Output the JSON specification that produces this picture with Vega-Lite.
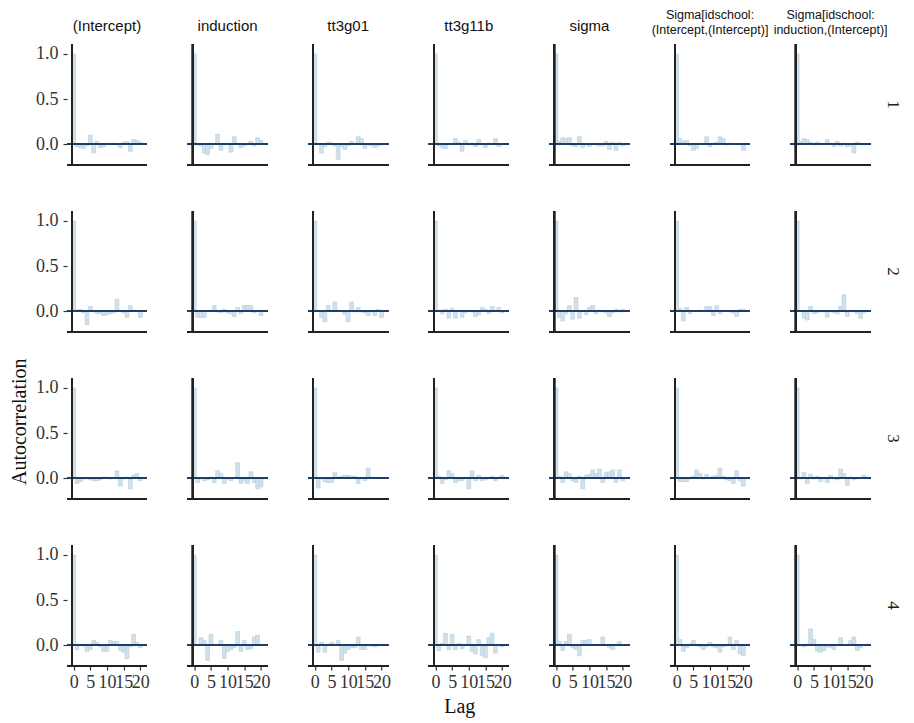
{
  "$schema": "https://vega.github.io/schema/vega-lite/v6.json",
  "background": "white",
  "padding": {"left": 9, "top": 8, "right": 5, "bottom": 3},
  "config": {
    "view": {"stroke": null},
    "axis": {"grid": false, "domain": false, "labelOverlap": false, "labelBound": false, "labelFlush": false, "labelFont": "Liberation Serif", "labelFontSize": 18, "labelColor": "#333", "tickColor": "#333", "tickWidth": 1.2, "tickSize": 4},
    "title": {"font": "Liberation Serif", "fontSize": 20, "fontWeight": "normal", "color": "#111"}
  },
  "title": {"text": "Lag", "orient": "bottom", "anchor": "middle", "offset": 6, "dx": 4},
  "vconcat": [
    {
      "title": {"text": "Autocorrelation", "orient": "left", "anchor": "middle", "offset": 6, "dx": -72},
      "data": {"values": [
{"c":1,"p":"(Intercept)","l":0,"a":1},{"c":1,"p":"(Intercept)","l":1,"a":-0.03},{"c":1,"p":"(Intercept)","l":2,"a":-0.04},{"c":1,"p":"(Intercept)","l":3,"a":-0.05},{"c":1,"p":"(Intercept)","l":4,"a":-0.02},{"c":1,"p":"(Intercept)","l":5,"a":0.1},{"c":1,"p":"(Intercept)","l":6,"a":-0.1},{"c":1,"p":"(Intercept)","l":7,"a":0.03},{"c":1,"p":"(Intercept)","l":8,"a":-0.04},{"c":1,"p":"(Intercept)","l":9,"a":-0.03},{"c":1,"p":"(Intercept)","l":10,"a":0.01},{"c":1,"p":"(Intercept)","l":11,"a":-0.01},{"c":1,"p":"(Intercept)","l":12,"a":0.01},{"c":1,"p":"(Intercept)","l":13,"a":-0.01},{"c":1,"p":"(Intercept)","l":14,"a":-0.04},{"c":1,"p":"(Intercept)","l":15,"a":0.02},{"c":1,"p":"(Intercept)","l":16,"a":0.03},{"c":1,"p":"(Intercept)","l":17,"a":-0.08},{"c":1,"p":"(Intercept)","l":18,"a":0.05},{"c":1,"p":"(Intercept)","l":19,"a":0.04},{"c":1,"p":"(Intercept)","l":20,"a":0.02},
{"c":1,"p":"induction","l":0,"a":1},{"c":1,"p":"induction","l":1,"a":0.0},{"c":1,"p":"induction","l":2,"a":-0.02},{"c":1,"p":"induction","l":3,"a":-0.1},{"c":1,"p":"induction","l":4,"a":-0.12},{"c":1,"p":"induction","l":5,"a":-0.05},{"c":1,"p":"induction","l":6,"a":0.0},{"c":1,"p":"induction","l":7,"a":0.11},{"c":1,"p":"induction","l":8,"a":-0.07},{"c":1,"p":"induction","l":9,"a":-0.01},{"c":1,"p":"induction","l":10,"a":0.01},{"c":1,"p":"induction","l":11,"a":-0.09},{"c":1,"p":"induction","l":12,"a":0.08},{"c":1,"p":"induction","l":13,"a":0.01},{"c":1,"p":"induction","l":14,"a":-0.04},{"c":1,"p":"induction","l":15,"a":-0.02},{"c":1,"p":"induction","l":16,"a":0.01},{"c":1,"p":"induction","l":17,"a":0.03},{"c":1,"p":"induction","l":18,"a":-0.02},{"c":1,"p":"induction","l":19,"a":0.07},{"c":1,"p":"induction","l":20,"a":0.04},
{"c":1,"p":"tt3g01","l":0,"a":1},{"c":1,"p":"tt3g01","l":1,"a":0.0},{"c":1,"p":"tt3g01","l":2,"a":-0.1},{"c":1,"p":"tt3g01","l":3,"a":-0.03},{"c":1,"p":"tt3g01","l":4,"a":0.02},{"c":1,"p":"tt3g01","l":5,"a":0.01},{"c":1,"p":"tt3g01","l":6,"a":-0.02},{"c":1,"p":"tt3g01","l":7,"a":-0.17},{"c":1,"p":"tt3g01","l":8,"a":-0.03},{"c":1,"p":"tt3g01","l":9,"a":-0.06},{"c":1,"p":"tt3g01","l":10,"a":-0.02},{"c":1,"p":"tt3g01","l":11,"a":0.03},{"c":1,"p":"tt3g01","l":12,"a":0.01},{"c":1,"p":"tt3g01","l":13,"a":0.08},{"c":1,"p":"tt3g01","l":14,"a":0.06},{"c":1,"p":"tt3g01","l":15,"a":-0.05},{"c":1,"p":"tt3g01","l":16,"a":-0.01},{"c":1,"p":"tt3g01","l":17,"a":-0.02},{"c":1,"p":"tt3g01","l":18,"a":-0.04},{"c":1,"p":"tt3g01","l":19,"a":-0.02},{"c":1,"p":"tt3g01","l":20,"a":-0.01},
{"c":1,"p":"tt3g11b","l":0,"a":1},{"c":1,"p":"tt3g11b","l":1,"a":-0.02},{"c":1,"p":"tt3g11b","l":2,"a":-0.04},{"c":1,"p":"tt3g11b","l":3,"a":-0.05},{"c":1,"p":"tt3g11b","l":4,"a":-0.01},{"c":1,"p":"tt3g11b","l":5,"a":0.0},{"c":1,"p":"tt3g11b","l":6,"a":0.06},{"c":1,"p":"tt3g11b","l":7,"a":0.02},{"c":1,"p":"tt3g11b","l":8,"a":-0.08},{"c":1,"p":"tt3g11b","l":9,"a":0.04},{"c":1,"p":"tt3g11b","l":10,"a":-0.01},{"c":1,"p":"tt3g11b","l":11,"a":0.01},{"c":1,"p":"tt3g11b","l":12,"a":-0.03},{"c":1,"p":"tt3g11b","l":13,"a":0.05},{"c":1,"p":"tt3g11b","l":14,"a":0.0},{"c":1,"p":"tt3g11b","l":15,"a":-0.04},{"c":1,"p":"tt3g11b","l":16,"a":0.01},{"c":1,"p":"tt3g11b","l":17,"a":0.0},{"c":1,"p":"tt3g11b","l":18,"a":0.06},{"c":1,"p":"tt3g11b","l":19,"a":-0.03},{"c":1,"p":"tt3g11b","l":20,"a":-0.01},
{"c":1,"p":"sigma","l":0,"a":1},{"c":1,"p":"sigma","l":1,"a":0.03},{"c":1,"p":"sigma","l":2,"a":0.07},{"c":1,"p":"sigma","l":3,"a":0.06},{"c":1,"p":"sigma","l":4,"a":0.07},{"c":1,"p":"sigma","l":5,"a":-0.02},{"c":1,"p":"sigma","l":6,"a":-0.03},{"c":1,"p":"sigma","l":7,"a":0.08},{"c":1,"p":"sigma","l":8,"a":-0.04},{"c":1,"p":"sigma","l":9,"a":-0.01},{"c":1,"p":"sigma","l":10,"a":-0.03},{"c":1,"p":"sigma","l":11,"a":0.01},{"c":1,"p":"sigma","l":12,"a":-0.01},{"c":1,"p":"sigma","l":13,"a":-0.02},{"c":1,"p":"sigma","l":14,"a":-0.02},{"c":1,"p":"sigma","l":15,"a":0.03},{"c":1,"p":"sigma","l":16,"a":-0.06},{"c":1,"p":"sigma","l":17,"a":0.02},{"c":1,"p":"sigma","l":18,"a":-0.07},{"c":1,"p":"sigma","l":19,"a":0.02},{"c":1,"p":"sigma","l":20,"a":-0.02},
{"c":1,"p":"Sigma[idschool:|(Intercept,(Intercept)]","l":0,"a":1},{"c":1,"p":"Sigma[idschool:|(Intercept,(Intercept)]","l":1,"a":0.06},{"c":1,"p":"Sigma[idschool:|(Intercept,(Intercept)]","l":2,"a":0.03},{"c":1,"p":"Sigma[idschool:|(Intercept,(Intercept)]","l":3,"a":0.04},{"c":1,"p":"Sigma[idschool:|(Intercept,(Intercept)]","l":4,"a":-0.02},{"c":1,"p":"Sigma[idschool:|(Intercept,(Intercept)]","l":5,"a":-0.07},{"c":1,"p":"Sigma[idschool:|(Intercept,(Intercept)]","l":6,"a":-0.05},{"c":1,"p":"Sigma[idschool:|(Intercept,(Intercept)]","l":7,"a":0.0},{"c":1,"p":"Sigma[idschool:|(Intercept,(Intercept)]","l":8,"a":0.01},{"c":1,"p":"Sigma[idschool:|(Intercept,(Intercept)]","l":9,"a":0.08},{"c":1,"p":"Sigma[idschool:|(Intercept,(Intercept)]","l":10,"a":-0.03},{"c":1,"p":"Sigma[idschool:|(Intercept,(Intercept)]","l":11,"a":0.01},{"c":1,"p":"Sigma[idschool:|(Intercept,(Intercept)]","l":12,"a":0.02},{"c":1,"p":"Sigma[idschool:|(Intercept,(Intercept)]","l":13,"a":0.08},{"c":1,"p":"Sigma[idschool:|(Intercept,(Intercept)]","l":14,"a":0.06},{"c":1,"p":"Sigma[idschool:|(Intercept,(Intercept)]","l":15,"a":-0.01},{"c":1,"p":"Sigma[idschool:|(Intercept,(Intercept)]","l":16,"a":0.01},{"c":1,"p":"Sigma[idschool:|(Intercept,(Intercept)]","l":17,"a":0.0},{"c":1,"p":"Sigma[idschool:|(Intercept,(Intercept)]","l":18,"a":-0.01},{"c":1,"p":"Sigma[idschool:|(Intercept,(Intercept)]","l":19,"a":-0.01},{"c":1,"p":"Sigma[idschool:|(Intercept,(Intercept)]","l":20,"a":-0.07},
{"c":1,"p":"Sigma[idschool:|induction,(Intercept)]","l":0,"a":1},{"c":1,"p":"Sigma[idschool:|induction,(Intercept)]","l":1,"a":0.03},{"c":1,"p":"Sigma[idschool:|induction,(Intercept)]","l":2,"a":0.06},{"c":1,"p":"Sigma[idschool:|induction,(Intercept)]","l":3,"a":0.05},{"c":1,"p":"Sigma[idschool:|induction,(Intercept)]","l":4,"a":0.02},{"c":1,"p":"Sigma[idschool:|induction,(Intercept)]","l":5,"a":-0.01},{"c":1,"p":"Sigma[idschool:|induction,(Intercept)]","l":6,"a":0.02},{"c":1,"p":"Sigma[idschool:|induction,(Intercept)]","l":7,"a":-0.01},{"c":1,"p":"Sigma[idschool:|induction,(Intercept)]","l":8,"a":0.0},{"c":1,"p":"Sigma[idschool:|induction,(Intercept)]","l":9,"a":0.05},{"c":1,"p":"Sigma[idschool:|induction,(Intercept)]","l":10,"a":0.01},{"c":1,"p":"Sigma[idschool:|induction,(Intercept)]","l":11,"a":-0.03},{"c":1,"p":"Sigma[idschool:|induction,(Intercept)]","l":12,"a":0.03},{"c":1,"p":"Sigma[idschool:|induction,(Intercept)]","l":13,"a":-0.02},{"c":1,"p":"Sigma[idschool:|induction,(Intercept)]","l":14,"a":0.01},{"c":1,"p":"Sigma[idschool:|induction,(Intercept)]","l":15,"a":-0.03},{"c":1,"p":"Sigma[idschool:|induction,(Intercept)]","l":16,"a":-0.02},{"c":1,"p":"Sigma[idschool:|induction,(Intercept)]","l":17,"a":-0.1},{"c":1,"p":"Sigma[idschool:|induction,(Intercept)]","l":18,"a":0.02},{"c":1,"p":"Sigma[idschool:|induction,(Intercept)]","l":19,"a":-0.01},{"c":1,"p":"Sigma[idschool:|induction,(Intercept)]","l":20,"a":-0.01},
{"c":2,"p":"(Intercept)","l":0,"a":1},{"c":2,"p":"(Intercept)","l":1,"a":0.01},{"c":2,"p":"(Intercept)","l":2,"a":0.02},{"c":2,"p":"(Intercept)","l":3,"a":-0.02},{"c":2,"p":"(Intercept)","l":4,"a":-0.15},{"c":2,"p":"(Intercept)","l":5,"a":0.05},{"c":2,"p":"(Intercept)","l":6,"a":-0.01},{"c":2,"p":"(Intercept)","l":7,"a":-0.03},{"c":2,"p":"(Intercept)","l":8,"a":-0.03},{"c":2,"p":"(Intercept)","l":9,"a":-0.05},{"c":2,"p":"(Intercept)","l":10,"a":-0.04},{"c":2,"p":"(Intercept)","l":11,"a":-0.03},{"c":2,"p":"(Intercept)","l":12,"a":-0.02},{"c":2,"p":"(Intercept)","l":13,"a":0.13},{"c":2,"p":"(Intercept)","l":14,"a":0.01},{"c":2,"p":"(Intercept)","l":15,"a":-0.02},{"c":2,"p":"(Intercept)","l":16,"a":-0.07},{"c":2,"p":"(Intercept)","l":17,"a":0.06},{"c":2,"p":"(Intercept)","l":18,"a":0.01},{"c":2,"p":"(Intercept)","l":19,"a":0.0},{"c":2,"p":"(Intercept)","l":20,"a":-0.07},
{"c":2,"p":"induction","l":0,"a":1},{"c":2,"p":"induction","l":1,"a":-0.07},{"c":2,"p":"induction","l":2,"a":-0.07},{"c":2,"p":"induction","l":3,"a":-0.07},{"c":2,"p":"induction","l":4,"a":0.0},{"c":2,"p":"induction","l":5,"a":0.01},{"c":2,"p":"induction","l":6,"a":0.06},{"c":2,"p":"induction","l":7,"a":-0.01},{"c":2,"p":"induction","l":8,"a":-0.02},{"c":2,"p":"induction","l":9,"a":0.02},{"c":2,"p":"induction","l":10,"a":-0.02},{"c":2,"p":"induction","l":11,"a":-0.03},{"c":2,"p":"induction","l":12,"a":-0.06},{"c":2,"p":"induction","l":13,"a":0.04},{"c":2,"p":"induction","l":14,"a":-0.03},{"c":2,"p":"induction","l":15,"a":0.06},{"c":2,"p":"induction","l":16,"a":0.06},{"c":2,"p":"induction","l":17,"a":0.06},{"c":2,"p":"induction","l":18,"a":-0.02},{"c":2,"p":"induction","l":19,"a":0.01},{"c":2,"p":"induction","l":20,"a":-0.05},
{"c":2,"p":"tt3g01","l":0,"a":1},{"c":2,"p":"tt3g01","l":1,"a":0.0},{"c":2,"p":"tt3g01","l":2,"a":-0.07},{"c":2,"p":"tt3g01","l":3,"a":-0.12},{"c":2,"p":"tt3g01","l":4,"a":0.06},{"c":2,"p":"tt3g01","l":5,"a":0.0},{"c":2,"p":"tt3g01","l":6,"a":0.1},{"c":2,"p":"tt3g01","l":7,"a":0.01},{"c":2,"p":"tt3g01","l":8,"a":0.0},{"c":2,"p":"tt3g01","l":9,"a":-0.04},{"c":2,"p":"tt3g01","l":10,"a":-0.12},{"c":2,"p":"tt3g01","l":11,"a":0.1},{"c":2,"p":"tt3g01","l":12,"a":-0.01},{"c":2,"p":"tt3g01","l":13,"a":0.04},{"c":2,"p":"tt3g01","l":14,"a":-0.01},{"c":2,"p":"tt3g01","l":15,"a":-0.02},{"c":2,"p":"tt3g01","l":16,"a":-0.05},{"c":2,"p":"tt3g01","l":17,"a":-0.01},{"c":2,"p":"tt3g01","l":18,"a":-0.05},{"c":2,"p":"tt3g01","l":19,"a":0.02},{"c":2,"p":"tt3g01","l":20,"a":-0.07},
{"c":2,"p":"tt3g11b","l":0,"a":1},{"c":2,"p":"tt3g11b","l":1,"a":0.01},{"c":2,"p":"tt3g11b","l":2,"a":-0.03},{"c":2,"p":"tt3g11b","l":3,"a":0.02},{"c":2,"p":"tt3g11b","l":4,"a":-0.08},{"c":2,"p":"tt3g11b","l":5,"a":0.03},{"c":2,"p":"tt3g11b","l":6,"a":-0.08},{"c":2,"p":"tt3g11b","l":7,"a":0.01},{"c":2,"p":"tt3g11b","l":8,"a":-0.07},{"c":2,"p":"tt3g11b","l":9,"a":-0.02},{"c":2,"p":"tt3g11b","l":10,"a":0.01},{"c":2,"p":"tt3g11b","l":11,"a":-0.01},{"c":2,"p":"tt3g11b","l":12,"a":-0.06},{"c":2,"p":"tt3g11b","l":13,"a":-0.04},{"c":2,"p":"tt3g11b","l":14,"a":0.04},{"c":2,"p":"tt3g11b","l":15,"a":0.02},{"c":2,"p":"tt3g11b","l":16,"a":-0.03},{"c":2,"p":"tt3g11b","l":17,"a":0.05},{"c":2,"p":"tt3g11b","l":18,"a":0.01},{"c":2,"p":"tt3g11b","l":19,"a":0.04},{"c":2,"p":"tt3g11b","l":20,"a":-0.02},
{"c":2,"p":"sigma","l":0,"a":1},{"c":2,"p":"sigma","l":1,"a":-0.07},{"c":2,"p":"sigma","l":2,"a":-0.11},{"c":2,"p":"sigma","l":3,"a":-0.03},{"c":2,"p":"sigma","l":4,"a":0.06},{"c":2,"p":"sigma","l":5,"a":-0.09},{"c":2,"p":"sigma","l":6,"a":0.15},{"c":2,"p":"sigma","l":7,"a":-0.08},{"c":2,"p":"sigma","l":8,"a":0.0},{"c":2,"p":"sigma","l":9,"a":-0.04},{"c":2,"p":"sigma","l":10,"a":0.04},{"c":2,"p":"sigma","l":11,"a":0.06},{"c":2,"p":"sigma","l":12,"a":-0.03},{"c":2,"p":"sigma","l":13,"a":0.01},{"c":2,"p":"sigma","l":14,"a":-0.01},{"c":2,"p":"sigma","l":15,"a":-0.02},{"c":2,"p":"sigma","l":16,"a":-0.06},{"c":2,"p":"sigma","l":17,"a":-0.02},{"c":2,"p":"sigma","l":18,"a":0.02},{"c":2,"p":"sigma","l":19,"a":-0.01},{"c":2,"p":"sigma","l":20,"a":0.02},
{"c":2,"p":"Sigma[idschool:|(Intercept,(Intercept)]","l":0,"a":1},{"c":2,"p":"Sigma[idschool:|(Intercept,(Intercept)]","l":1,"a":0.03},{"c":2,"p":"Sigma[idschool:|(Intercept,(Intercept)]","l":2,"a":-0.11},{"c":2,"p":"Sigma[idschool:|(Intercept,(Intercept)]","l":3,"a":0.04},{"c":2,"p":"Sigma[idschool:|(Intercept,(Intercept)]","l":4,"a":-0.03},{"c":2,"p":"Sigma[idschool:|(Intercept,(Intercept)]","l":5,"a":0.0},{"c":2,"p":"Sigma[idschool:|(Intercept,(Intercept)]","l":6,"a":0.0},{"c":2,"p":"Sigma[idschool:|(Intercept,(Intercept)]","l":7,"a":0.01},{"c":2,"p":"Sigma[idschool:|(Intercept,(Intercept)]","l":8,"a":0.0},{"c":2,"p":"Sigma[idschool:|(Intercept,(Intercept)]","l":9,"a":0.05},{"c":2,"p":"Sigma[idschool:|(Intercept,(Intercept)]","l":10,"a":0.05},{"c":2,"p":"Sigma[idschool:|(Intercept,(Intercept)]","l":11,"a":-0.05},{"c":2,"p":"Sigma[idschool:|(Intercept,(Intercept)]","l":12,"a":0.06},{"c":2,"p":"Sigma[idschool:|(Intercept,(Intercept)]","l":13,"a":-0.03},{"c":2,"p":"Sigma[idschool:|(Intercept,(Intercept)]","l":14,"a":0.01},{"c":2,"p":"Sigma[idschool:|(Intercept,(Intercept)]","l":15,"a":0.0},{"c":2,"p":"Sigma[idschool:|(Intercept,(Intercept)]","l":16,"a":-0.01},{"c":2,"p":"Sigma[idschool:|(Intercept,(Intercept)]","l":17,"a":-0.02},{"c":2,"p":"Sigma[idschool:|(Intercept,(Intercept)]","l":18,"a":-0.06},{"c":2,"p":"Sigma[idschool:|(Intercept,(Intercept)]","l":19,"a":0.02},{"c":2,"p":"Sigma[idschool:|(Intercept,(Intercept)]","l":20,"a":0.02},
{"c":2,"p":"Sigma[idschool:|induction,(Intercept)]","l":0,"a":1},{"c":2,"p":"Sigma[idschool:|induction,(Intercept)]","l":1,"a":0.0},{"c":2,"p":"Sigma[idschool:|induction,(Intercept)]","l":2,"a":-0.08},{"c":2,"p":"Sigma[idschool:|induction,(Intercept)]","l":3,"a":-0.1},{"c":2,"p":"Sigma[idschool:|induction,(Intercept)]","l":4,"a":0.05},{"c":2,"p":"Sigma[idschool:|induction,(Intercept)]","l":5,"a":-0.03},{"c":2,"p":"Sigma[idschool:|induction,(Intercept)]","l":6,"a":-0.02},{"c":2,"p":"Sigma[idschool:|induction,(Intercept)]","l":7,"a":0.0},{"c":2,"p":"Sigma[idschool:|induction,(Intercept)]","l":8,"a":-0.01},{"c":2,"p":"Sigma[idschool:|induction,(Intercept)]","l":9,"a":-0.07},{"c":2,"p":"Sigma[idschool:|induction,(Intercept)]","l":10,"a":0.0},{"c":2,"p":"Sigma[idschool:|induction,(Intercept)]","l":11,"a":-0.02},{"c":2,"p":"Sigma[idschool:|induction,(Intercept)]","l":12,"a":-0.03},{"c":2,"p":"Sigma[idschool:|induction,(Intercept)]","l":13,"a":0.05},{"c":2,"p":"Sigma[idschool:|induction,(Intercept)]","l":14,"a":0.18},{"c":2,"p":"Sigma[idschool:|induction,(Intercept)]","l":15,"a":-0.06},{"c":2,"p":"Sigma[idschool:|induction,(Intercept)]","l":16,"a":0.01},{"c":2,"p":"Sigma[idschool:|induction,(Intercept)]","l":17,"a":-0.01},{"c":2,"p":"Sigma[idschool:|induction,(Intercept)]","l":18,"a":-0.03},{"c":2,"p":"Sigma[idschool:|induction,(Intercept)]","l":19,"a":-0.08},{"c":2,"p":"Sigma[idschool:|induction,(Intercept)]","l":20,"a":-0.02},
{"c":3,"p":"(Intercept)","l":0,"a":1},{"c":3,"p":"(Intercept)","l":1,"a":-0.06},{"c":3,"p":"(Intercept)","l":2,"a":-0.04},{"c":3,"p":"(Intercept)","l":3,"a":-0.01},{"c":3,"p":"(Intercept)","l":4,"a":-0.01},{"c":3,"p":"(Intercept)","l":5,"a":-0.02},{"c":3,"p":"(Intercept)","l":6,"a":-0.03},{"c":3,"p":"(Intercept)","l":7,"a":-0.03},{"c":3,"p":"(Intercept)","l":8,"a":-0.02},{"c":3,"p":"(Intercept)","l":9,"a":0.01},{"c":3,"p":"(Intercept)","l":10,"a":0.01},{"c":3,"p":"(Intercept)","l":11,"a":-0.01},{"c":3,"p":"(Intercept)","l":12,"a":0.0},{"c":3,"p":"(Intercept)","l":13,"a":0.08},{"c":3,"p":"(Intercept)","l":14,"a":-0.09},{"c":3,"p":"(Intercept)","l":15,"a":-0.01},{"c":3,"p":"(Intercept)","l":16,"a":0.01},{"c":3,"p":"(Intercept)","l":17,"a":-0.12},{"c":3,"p":"(Intercept)","l":18,"a":0.03},{"c":3,"p":"(Intercept)","l":19,"a":0.05},{"c":3,"p":"(Intercept)","l":20,"a":-0.03},
{"c":3,"p":"induction","l":0,"a":1},{"c":3,"p":"induction","l":1,"a":-0.05},{"c":3,"p":"induction","l":2,"a":-0.01},{"c":3,"p":"induction","l":3,"a":-0.03},{"c":3,"p":"induction","l":4,"a":-0.02},{"c":3,"p":"induction","l":5,"a":0.01},{"c":3,"p":"induction","l":6,"a":-0.05},{"c":3,"p":"induction","l":7,"a":0.08},{"c":3,"p":"induction","l":8,"a":0.05},{"c":3,"p":"induction","l":9,"a":-0.06},{"c":3,"p":"induction","l":10,"a":-0.01},{"c":3,"p":"induction","l":11,"a":-0.03},{"c":3,"p":"induction","l":12,"a":0.0},{"c":3,"p":"induction","l":13,"a":0.17},{"c":3,"p":"induction","l":14,"a":-0.06},{"c":3,"p":"induction","l":15,"a":-0.03},{"c":3,"p":"induction","l":16,"a":-0.06},{"c":3,"p":"induction","l":17,"a":0.07},{"c":3,"p":"induction","l":18,"a":-0.05},{"c":3,"p":"induction","l":19,"a":-0.12},{"c":3,"p":"induction","l":20,"a":-0.1},
{"c":3,"p":"tt3g01","l":0,"a":1},{"c":3,"p":"tt3g01","l":1,"a":-0.11},{"c":3,"p":"tt3g01","l":2,"a":-0.01},{"c":3,"p":"tt3g01","l":3,"a":-0.04},{"c":3,"p":"tt3g01","l":4,"a":-0.05},{"c":3,"p":"tt3g01","l":5,"a":-0.05},{"c":3,"p":"tt3g01","l":6,"a":0.06},{"c":3,"p":"tt3g01","l":7,"a":0.01},{"c":3,"p":"tt3g01","l":8,"a":0.02},{"c":3,"p":"tt3g01","l":9,"a":0.03},{"c":3,"p":"tt3g01","l":10,"a":0.03},{"c":3,"p":"tt3g01","l":11,"a":0.02},{"c":3,"p":"tt3g01","l":12,"a":0.02},{"c":3,"p":"tt3g01","l":13,"a":-0.06},{"c":3,"p":"tt3g01","l":14,"a":0.0},{"c":3,"p":"tt3g01","l":15,"a":-0.03},{"c":3,"p":"tt3g01","l":16,"a":0.11},{"c":3,"p":"tt3g01","l":17,"a":0.01},{"c":3,"p":"tt3g01","l":18,"a":0.0},{"c":3,"p":"tt3g01","l":19,"a":0.0},{"c":3,"p":"tt3g01","l":20,"a":0.0},
{"c":3,"p":"tt3g11b","l":0,"a":1},{"c":3,"p":"tt3g11b","l":1,"a":0.02},{"c":3,"p":"tt3g11b","l":2,"a":-0.06},{"c":3,"p":"tt3g11b","l":3,"a":-0.02},{"c":3,"p":"tt3g11b","l":4,"a":0.08},{"c":3,"p":"tt3g11b","l":5,"a":0.05},{"c":3,"p":"tt3g11b","l":6,"a":-0.05},{"c":3,"p":"tt3g11b","l":7,"a":-0.03},{"c":3,"p":"tt3g11b","l":8,"a":-0.03},{"c":3,"p":"tt3g11b","l":9,"a":0.0},{"c":3,"p":"tt3g11b","l":10,"a":-0.12},{"c":3,"p":"tt3g11b","l":11,"a":0.08},{"c":3,"p":"tt3g11b","l":12,"a":-0.03},{"c":3,"p":"tt3g11b","l":13,"a":0.03},{"c":3,"p":"tt3g11b","l":14,"a":-0.03},{"c":3,"p":"tt3g11b","l":15,"a":-0.02},{"c":3,"p":"tt3g11b","l":16,"a":0.0},{"c":3,"p":"tt3g11b","l":17,"a":0.02},{"c":3,"p":"tt3g11b","l":18,"a":-0.03},{"c":3,"p":"tt3g11b","l":19,"a":0.01},{"c":3,"p":"tt3g11b","l":20,"a":0.03},
{"c":3,"p":"sigma","l":0,"a":1},{"c":3,"p":"sigma","l":1,"a":0.02},{"c":3,"p":"sigma","l":2,"a":-0.05},{"c":3,"p":"sigma","l":3,"a":0.07},{"c":3,"p":"sigma","l":4,"a":0.05},{"c":3,"p":"sigma","l":5,"a":-0.03},{"c":3,"p":"sigma","l":6,"a":-0.05},{"c":3,"p":"sigma","l":7,"a":0.02},{"c":3,"p":"sigma","l":8,"a":-0.12},{"c":3,"p":"sigma","l":9,"a":0.03},{"c":3,"p":"sigma","l":10,"a":0.04},{"c":3,"p":"sigma","l":11,"a":0.09},{"c":3,"p":"sigma","l":12,"a":0.05},{"c":3,"p":"sigma","l":13,"a":0.1},{"c":3,"p":"sigma","l":14,"a":-0.05},{"c":3,"p":"sigma","l":15,"a":0.06},{"c":3,"p":"sigma","l":16,"a":0.07},{"c":3,"p":"sigma","l":17,"a":0.09},{"c":3,"p":"sigma","l":18,"a":-0.05},{"c":3,"p":"sigma","l":19,"a":0.09},{"c":3,"p":"sigma","l":20,"a":-0.03},
{"c":3,"p":"Sigma[idschool:|(Intercept,(Intercept)]","l":0,"a":1},{"c":3,"p":"Sigma[idschool:|(Intercept,(Intercept)]","l":1,"a":-0.04},{"c":3,"p":"Sigma[idschool:|(Intercept,(Intercept)]","l":2,"a":-0.04},{"c":3,"p":"Sigma[idschool:|(Intercept,(Intercept)]","l":3,"a":-0.04},{"c":3,"p":"Sigma[idschool:|(Intercept,(Intercept)]","l":4,"a":-0.01},{"c":3,"p":"Sigma[idschool:|(Intercept,(Intercept)]","l":5,"a":0.02},{"c":3,"p":"Sigma[idschool:|(Intercept,(Intercept)]","l":6,"a":0.09},{"c":3,"p":"Sigma[idschool:|(Intercept,(Intercept)]","l":7,"a":0.05},{"c":3,"p":"Sigma[idschool:|(Intercept,(Intercept)]","l":8,"a":-0.01},{"c":3,"p":"Sigma[idschool:|(Intercept,(Intercept)]","l":9,"a":0.04},{"c":3,"p":"Sigma[idschool:|(Intercept,(Intercept)]","l":10,"a":0.01},{"c":3,"p":"Sigma[idschool:|(Intercept,(Intercept)]","l":11,"a":0.02},{"c":3,"p":"Sigma[idschool:|(Intercept,(Intercept)]","l":12,"a":0.03},{"c":3,"p":"Sigma[idschool:|(Intercept,(Intercept)]","l":13,"a":0.11},{"c":3,"p":"Sigma[idschool:|(Intercept,(Intercept)]","l":14,"a":0.02},{"c":3,"p":"Sigma[idschool:|(Intercept,(Intercept)]","l":15,"a":-0.02},{"c":3,"p":"Sigma[idschool:|(Intercept,(Intercept)]","l":16,"a":-0.03},{"c":3,"p":"Sigma[idschool:|(Intercept,(Intercept)]","l":17,"a":-0.06},{"c":3,"p":"Sigma[idschool:|(Intercept,(Intercept)]","l":18,"a":0.08},{"c":3,"p":"Sigma[idschool:|(Intercept,(Intercept)]","l":19,"a":-0.03},{"c":3,"p":"Sigma[idschool:|(Intercept,(Intercept)]","l":20,"a":-0.09},
{"c":3,"p":"Sigma[idschool:|induction,(Intercept)]","l":0,"a":1},{"c":3,"p":"Sigma[idschool:|induction,(Intercept)]","l":1,"a":-0.01},{"c":3,"p":"Sigma[idschool:|induction,(Intercept)]","l":2,"a":0.06},{"c":3,"p":"Sigma[idschool:|induction,(Intercept)]","l":3,"a":-0.06},{"c":3,"p":"Sigma[idschool:|induction,(Intercept)]","l":4,"a":0.04},{"c":3,"p":"Sigma[idschool:|induction,(Intercept)]","l":5,"a":-0.01},{"c":3,"p":"Sigma[idschool:|induction,(Intercept)]","l":6,"a":0.02},{"c":3,"p":"Sigma[idschool:|induction,(Intercept)]","l":7,"a":-0.04},{"c":3,"p":"Sigma[idschool:|induction,(Intercept)]","l":8,"a":0.0},{"c":3,"p":"Sigma[idschool:|induction,(Intercept)]","l":9,"a":-0.05},{"c":3,"p":"Sigma[idschool:|induction,(Intercept)]","l":10,"a":0.03},{"c":3,"p":"Sigma[idschool:|induction,(Intercept)]","l":11,"a":-0.01},{"c":3,"p":"Sigma[idschool:|induction,(Intercept)]","l":12,"a":-0.02},{"c":3,"p":"Sigma[idschool:|induction,(Intercept)]","l":13,"a":0.1},{"c":3,"p":"Sigma[idschool:|induction,(Intercept)]","l":14,"a":0.05},{"c":3,"p":"Sigma[idschool:|induction,(Intercept)]","l":15,"a":-0.08},{"c":3,"p":"Sigma[idschool:|induction,(Intercept)]","l":16,"a":0.01},{"c":3,"p":"Sigma[idschool:|induction,(Intercept)]","l":17,"a":-0.02},{"c":3,"p":"Sigma[idschool:|induction,(Intercept)]","l":18,"a":-0.01},{"c":3,"p":"Sigma[idschool:|induction,(Intercept)]","l":19,"a":0.0},{"c":3,"p":"Sigma[idschool:|induction,(Intercept)]","l":20,"a":0.03},
{"c":4,"p":"(Intercept)","l":0,"a":1},{"c":4,"p":"(Intercept)","l":1,"a":-0.05},{"c":4,"p":"(Intercept)","l":2,"a":0.0},{"c":4,"p":"(Intercept)","l":3,"a":-0.01},{"c":4,"p":"(Intercept)","l":4,"a":-0.07},{"c":4,"p":"(Intercept)","l":5,"a":-0.05},{"c":4,"p":"(Intercept)","l":6,"a":0.05},{"c":4,"p":"(Intercept)","l":7,"a":0.03},{"c":4,"p":"(Intercept)","l":8,"a":-0.02},{"c":4,"p":"(Intercept)","l":9,"a":-0.07},{"c":4,"p":"(Intercept)","l":10,"a":-0.07},{"c":4,"p":"(Intercept)","l":11,"a":0.05},{"c":4,"p":"(Intercept)","l":12,"a":0.04},{"c":4,"p":"(Intercept)","l":13,"a":0.04},{"c":4,"p":"(Intercept)","l":14,"a":-0.06},{"c":4,"p":"(Intercept)","l":15,"a":-0.08},{"c":4,"p":"(Intercept)","l":16,"a":-0.15},{"c":4,"p":"(Intercept)","l":17,"a":-0.02},{"c":4,"p":"(Intercept)","l":18,"a":0.12},{"c":4,"p":"(Intercept)","l":19,"a":0.03},{"c":4,"p":"(Intercept)","l":20,"a":-0.03},
{"c":4,"p":"induction","l":0,"a":1},{"c":4,"p":"induction","l":1,"a":0.0},{"c":4,"p":"induction","l":2,"a":0.08},{"c":4,"p":"induction","l":3,"a":0.05},{"c":4,"p":"induction","l":4,"a":-0.17},{"c":4,"p":"induction","l":5,"a":0.12},{"c":4,"p":"induction","l":6,"a":0.0},{"c":4,"p":"induction","l":7,"a":0.0},{"c":4,"p":"induction","l":8,"a":0.05},{"c":4,"p":"induction","l":9,"a":-0.15},{"c":4,"p":"induction","l":10,"a":-0.07},{"c":4,"p":"induction","l":11,"a":-0.05},{"c":4,"p":"induction","l":12,"a":-0.03},{"c":4,"p":"induction","l":13,"a":0.15},{"c":4,"p":"induction","l":14,"a":-0.07},{"c":4,"p":"induction","l":15,"a":0.05},{"c":4,"p":"induction","l":16,"a":-0.05},{"c":4,"p":"induction","l":17,"a":-0.04},{"c":4,"p":"induction","l":18,"a":0.09},{"c":4,"p":"induction","l":19,"a":0.11},{"c":4,"p":"induction","l":20,"a":0.0},
{"c":4,"p":"tt3g01","l":0,"a":1},{"c":4,"p":"tt3g01","l":1,"a":-0.08},{"c":4,"p":"tt3g01","l":2,"a":0.03},{"c":4,"p":"tt3g01","l":3,"a":-0.08},{"c":4,"p":"tt3g01","l":4,"a":0.0},{"c":4,"p":"tt3g01","l":5,"a":0.03},{"c":4,"p":"tt3g01","l":6,"a":0.0},{"c":4,"p":"tt3g01","l":7,"a":0.05},{"c":4,"p":"tt3g01","l":8,"a":-0.17},{"c":4,"p":"tt3g01","l":9,"a":-0.09},{"c":4,"p":"tt3g01","l":10,"a":-0.05},{"c":4,"p":"tt3g01","l":11,"a":-0.03},{"c":4,"p":"tt3g01","l":12,"a":-0.03},{"c":4,"p":"tt3g01","l":13,"a":0.09},{"c":4,"p":"tt3g01","l":14,"a":-0.05},{"c":4,"p":"tt3g01","l":15,"a":-0.05},{"c":4,"p":"tt3g01","l":16,"a":0.0},{"c":4,"p":"tt3g01","l":17,"a":-0.01},{"c":4,"p":"tt3g01","l":18,"a":-0.02},{"c":4,"p":"tt3g01","l":19,"a":-0.01},{"c":4,"p":"tt3g01","l":20,"a":0.0},
{"c":4,"p":"tt3g11b","l":0,"a":1},{"c":4,"p":"tt3g11b","l":1,"a":-0.06},{"c":4,"p":"tt3g11b","l":2,"a":0.02},{"c":4,"p":"tt3g11b","l":3,"a":0.13},{"c":4,"p":"tt3g11b","l":4,"a":-0.05},{"c":4,"p":"tt3g11b","l":5,"a":0.12},{"c":4,"p":"tt3g11b","l":6,"a":-0.05},{"c":4,"p":"tt3g11b","l":7,"a":0.02},{"c":4,"p":"tt3g11b","l":8,"a":-0.04},{"c":4,"p":"tt3g11b","l":9,"a":-0.01},{"c":4,"p":"tt3g11b","l":10,"a":0.1},{"c":4,"p":"tt3g11b","l":11,"a":-0.07},{"c":4,"p":"tt3g11b","l":12,"a":-0.1},{"c":4,"p":"tt3g11b","l":13,"a":0.06},{"c":4,"p":"tt3g11b","l":14,"a":-0.12},{"c":4,"p":"tt3g11b","l":15,"a":-0.14},{"c":4,"p":"tt3g11b","l":16,"a":0.08},{"c":4,"p":"tt3g11b","l":17,"a":0.13},{"c":4,"p":"tt3g11b","l":18,"a":-0.09},{"c":4,"p":"tt3g11b","l":19,"a":0.0},{"c":4,"p":"tt3g11b","l":20,"a":-0.02},
{"c":4,"p":"sigma","l":0,"a":1},{"c":4,"p":"sigma","l":1,"a":0.04},{"c":4,"p":"sigma","l":2,"a":-0.06},{"c":4,"p":"sigma","l":3,"a":0.04},{"c":4,"p":"sigma","l":4,"a":0.12},{"c":4,"p":"sigma","l":5,"a":-0.03},{"c":4,"p":"sigma","l":6,"a":-0.05},{"c":4,"p":"sigma","l":7,"a":-0.12},{"c":4,"p":"sigma","l":8,"a":0.05},{"c":4,"p":"sigma","l":9,"a":0.05},{"c":4,"p":"sigma","l":10,"a":0.06},{"c":4,"p":"sigma","l":11,"a":0.0},{"c":4,"p":"sigma","l":12,"a":0.0},{"c":4,"p":"sigma","l":13,"a":0.0},{"c":4,"p":"sigma","l":14,"a":0.09},{"c":4,"p":"sigma","l":15,"a":0.0},{"c":4,"p":"sigma","l":16,"a":-0.03},{"c":4,"p":"sigma","l":17,"a":-0.05},{"c":4,"p":"sigma","l":18,"a":0.0},{"c":4,"p":"sigma","l":19,"a":0.04},{"c":4,"p":"sigma","l":20,"a":0.0},
{"c":4,"p":"Sigma[idschool:|(Intercept,(Intercept)]","l":0,"a":1},{"c":4,"p":"Sigma[idschool:|(Intercept,(Intercept)]","l":1,"a":0.06},{"c":4,"p":"Sigma[idschool:|(Intercept,(Intercept)]","l":2,"a":-0.07},{"c":4,"p":"Sigma[idschool:|(Intercept,(Intercept)]","l":3,"a":-0.03},{"c":4,"p":"Sigma[idschool:|(Intercept,(Intercept)]","l":4,"a":0.01},{"c":4,"p":"Sigma[idschool:|(Intercept,(Intercept)]","l":5,"a":0.05},{"c":4,"p":"Sigma[idschool:|(Intercept,(Intercept)]","l":6,"a":-0.01},{"c":4,"p":"Sigma[idschool:|(Intercept,(Intercept)]","l":7,"a":-0.02},{"c":4,"p":"Sigma[idschool:|(Intercept,(Intercept)]","l":8,"a":-0.05},{"c":4,"p":"Sigma[idschool:|(Intercept,(Intercept)]","l":9,"a":-0.02},{"c":4,"p":"Sigma[idschool:|(Intercept,(Intercept)]","l":10,"a":0.03},{"c":4,"p":"Sigma[idschool:|(Intercept,(Intercept)]","l":11,"a":-0.02},{"c":4,"p":"Sigma[idschool:|(Intercept,(Intercept)]","l":12,"a":-0.03},{"c":4,"p":"Sigma[idschool:|(Intercept,(Intercept)]","l":13,"a":-0.08},{"c":4,"p":"Sigma[idschool:|(Intercept,(Intercept)]","l":14,"a":-0.02},{"c":4,"p":"Sigma[idschool:|(Intercept,(Intercept)]","l":15,"a":0.0},{"c":4,"p":"Sigma[idschool:|(Intercept,(Intercept)]","l":16,"a":0.09},{"c":4,"p":"Sigma[idschool:|(Intercept,(Intercept)]","l":17,"a":-0.05},{"c":4,"p":"Sigma[idschool:|(Intercept,(Intercept)]","l":18,"a":0.05},{"c":4,"p":"Sigma[idschool:|(Intercept,(Intercept)]","l":19,"a":-0.1},{"c":4,"p":"Sigma[idschool:|(Intercept,(Intercept)]","l":20,"a":-0.12},
{"c":4,"p":"Sigma[idschool:|induction,(Intercept)]","l":0,"a":1},{"c":4,"p":"Sigma[idschool:|induction,(Intercept)]","l":1,"a":0.0},{"c":4,"p":"Sigma[idschool:|induction,(Intercept)]","l":2,"a":-0.02},{"c":4,"p":"Sigma[idschool:|induction,(Intercept)]","l":3,"a":0.01},{"c":4,"p":"Sigma[idschool:|induction,(Intercept)]","l":4,"a":0.18},{"c":4,"p":"Sigma[idschool:|induction,(Intercept)]","l":5,"a":0.06},{"c":4,"p":"Sigma[idschool:|induction,(Intercept)]","l":6,"a":-0.07},{"c":4,"p":"Sigma[idschool:|induction,(Intercept)]","l":7,"a":-0.08},{"c":4,"p":"Sigma[idschool:|induction,(Intercept)]","l":8,"a":-0.06},{"c":4,"p":"Sigma[idschool:|induction,(Intercept)]","l":9,"a":-0.02},{"c":4,"p":"Sigma[idschool:|induction,(Intercept)]","l":10,"a":-0.03},{"c":4,"p":"Sigma[idschool:|induction,(Intercept)]","l":11,"a":-0.05},{"c":4,"p":"Sigma[idschool:|induction,(Intercept)]","l":12,"a":0.0},{"c":4,"p":"Sigma[idschool:|induction,(Intercept)]","l":13,"a":0.08},{"c":4,"p":"Sigma[idschool:|induction,(Intercept)]","l":14,"a":0.0},{"c":4,"p":"Sigma[idschool:|induction,(Intercept)]","l":15,"a":0.0},{"c":4,"p":"Sigma[idschool:|induction,(Intercept)]","l":16,"a":0.05},{"c":4,"p":"Sigma[idschool:|induction,(Intercept)]","l":17,"a":0.09},{"c":4,"p":"Sigma[idschool:|induction,(Intercept)]","l":18,"a":-0.06},{"c":4,"p":"Sigma[idschool:|induction,(Intercept)]","l":19,"a":-0.03},{"c":4,"p":"Sigma[idschool:|induction,(Intercept)]","l":20,"a":0.0}
      ]},
      "facet": {
        "row": {"field": "c", "type": "ordinal", "header": {"title": null, "labelOrient": "right", "labelAngle": 90, "labelFont": "Liberation Serif", "labelFontSize": 17, "labelColor": "#222", "labelPadding": 13}},
        "column": {"field": "p", "type": "nominal", "sort": ["(Intercept)", "induction", "tt3g01", "tt3g11b", "sigma", "Sigma[idschool:|(Intercept,(Intercept)]", "Sigma[idschool:|induction,(Intercept)]"], "header": {"title": null, "labelExpr": "split(datum.label, '|')", "labelFont": "Liberation Sans", "labelFontSize": {"expr": "indexof(parent['p'], '|') >= 0 ? 12.5 : 15"}, "labelColor": "#111", "labelBaseline": "bottom", "labelPadding": -5, "labelLineHeight": 15}}
      },
      "spacing": {"row": 46, "column": 40.6},
      "bounds": "flush",
      "spec": {
        "width": 80,
        "height": 121,
        "layer": [
          {
            "mark": {"type": "bar", "size": 3.81, "fill": "#d1e1ec", "stroke": "#b3cde0", "strokeWidth": 0.6, "clip": true},
            "encoding": {
              "x": {"field": "l", "type": "quantitative", "scale": {"domain": [-0.5, 20.5], "nice": false, "zero": false}, "axis": {"title": null, "values": [0, 5, 10, 15, 20], "tickCount": 5, "labelPadding": 3, "labelOverlap": false, "labelFlush": false, "labelBound": false}},
              "y": {"field": "a", "type": "quantitative", "scale": {"domain": [-0.233, 1.111], "nice": false}, "axis": {"title": null, "values": [0, 0.5, 1], "format": ".1f", "labelPadding": 5, "labelOverlap": false, "labelFlush": false}},
              "y2": {"datum": 0}
            }
          },
          {
            "mark": {"type": "rule", "color": "#1f3f66", "strokeWidth": 1.2},
            "encoding": {"y": {"datum": 0, "type": "quantitative", "axis": {"title": null, "values": [0, 0.5, 1], "format": ".1f", "labelPadding": 5, "labelOverlap": false, "labelFlush": false}}}
          },
          {
            "mark": {"type": "rule", "color": "#222", "strokeWidth": 1.3},
            "encoding": {"x": {"datum": -0.5, "type": "quantitative", "axis": {"title": null, "values": [0, 5, 10, 15, 20], "tickCount": 5, "labelPadding": 3, "labelOverlap": false, "labelFlush": false, "labelBound": false}}}
          },
          {
            "mark": {"type": "rule", "color": "#222", "strokeWidth": 1.6},
            "encoding": {"y": {"datum": -0.233, "type": "quantitative", "axis": {"title": null, "values": [0, 0.5, 1], "format": ".1f", "labelPadding": 5, "labelOverlap": false, "labelFlush": false}}}
          }
        ]
      }
    }
  ]
}
